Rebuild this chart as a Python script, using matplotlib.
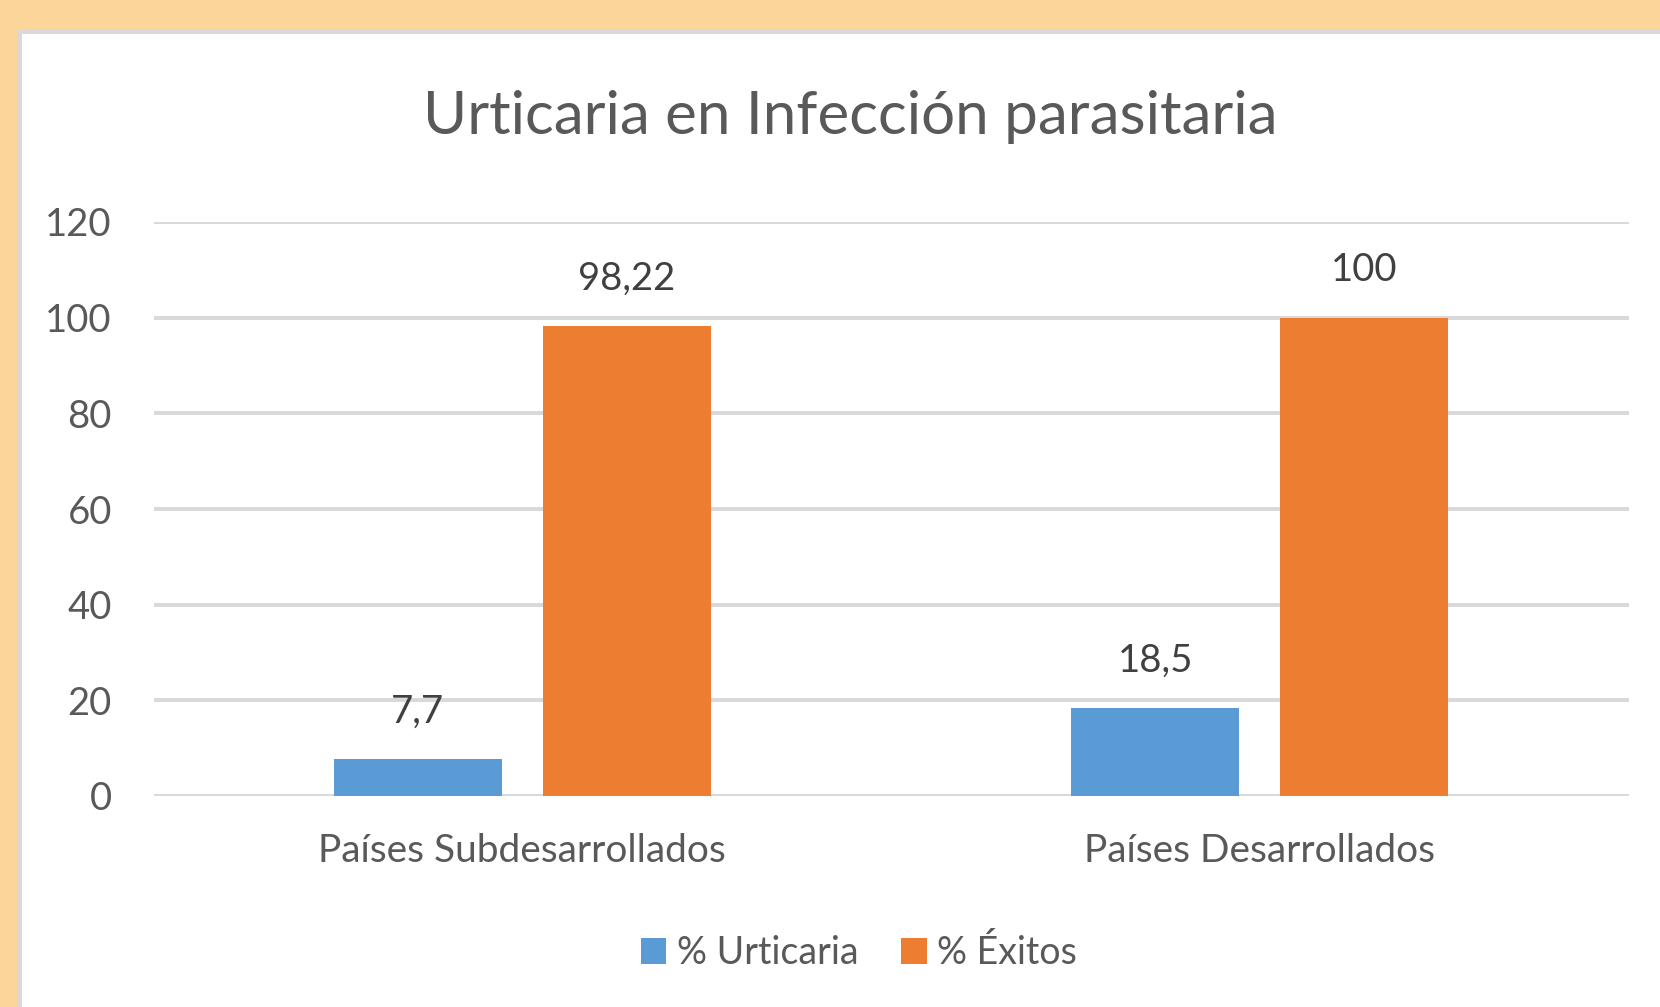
import matplotlib
matplotlib.use("Agg")
import matplotlib.pyplot as plt
from matplotlib.patches import Rectangle, Patch
import numpy as np

categories = ["Países Subdesarrollados", "Países Desarrollados"]
series_names = ["% Urticaria", "% Éxitos"]
urticaria = [7.7, 18.5]
exitos = [98.22, 100]
yticks = [0, 20, 40, 60, 80, 100, 120]
title = "Urticaria en Infección parasitaria"

BLUE = "#5B9BD5"
ORANGE = "#ED7D31"
TEXT = "#595959"
GRID = "#D9D9D9"
PEACH = "#FBD599"

plt.rcParams['font.family'] = ['Lato', 'DejaVu Sans']

W, H = 1660, 1007
fig = plt.figure(figsize=(W / 100, H / 100), dpi=100)
fig.patch.set_facecolor(PEACH)

# white chart area with gray border
bg = fig.add_axes([0, 0, 1, 1], zorder=0)
bg.set_xlim(0, W)
bg.set_ylim(H, 0)
bg.axis("off")
bg.add_patch(Rectangle((20, 32), W, H, facecolor="white",
                       edgecolor=GRID, linewidth=2.9))

ax = fig.add_axes([153.5 / W, 1 - 796 / H, 1475 / W, 574 / H], zorder=2)
ax.set_facecolor("none")

x = np.arange(len(categories))
bw = 0.228
off = 0.1417
b1 = ax.bar(x - off, urticaria, bw, color=BLUE, zorder=3, label=series_names[0])
b2 = ax.bar(x + off, exitos, bw, color=ORANGE, zorder=3, label=series_names[1])

for bars, vals in ((b1, urticaria), (b2, exitos)):
    for rect, v in zip(bars, vals):
        ax.annotate(f"{v:g}".replace(".", ","),
                    (rect.get_x() + rect.get_width() / 2, rect.get_height()),
                    xytext=(0, 34), textcoords="offset points",
                    ha="center", va="center", fontsize=27.5, color="#404040")

ax.set_ylim(0, 120)
ax.set_xlim(-0.5, 1.5)
ax.set_yticks(yticks)
ax.set_yticklabels([str(t) for t in yticks])
ax.set_xticks(x)
ax.set_xticklabels(categories)
ax.tick_params(axis="both", length=0, labelsize=27.5, labelcolor=TEXT)
ax.tick_params(axis="x", labelsize=28)
ax.tick_params(axis="y", pad=30)
ax.tick_params(axis="x", pad=27)
ax.grid(axis="y", color=GRID, linewidth=2.9, zorder=0)
ax.set_axisbelow(True)
for s in ax.spines.values():
    s.set_visible(False)

fig.text(850 / W, 1 - 117 / H, title, ha="center", va="center",
         fontsize=43.3, color=TEXT)

handles = [Patch(facecolor=BLUE), Patch(facecolor=ORANGE)]
fig.legend(handles, series_names, loc="center", bbox_to_anchor=(859 / W, 1 - 953 / H),
           ncol=2, frameon=False, fontsize=27, labelcolor=TEXT,
           handlelength=0.68, handleheight=0.68, handletextpad=0.28, columnspacing=1.15)

fig.savefig("out.png", dpi=100, facecolor=fig.get_facecolor())
